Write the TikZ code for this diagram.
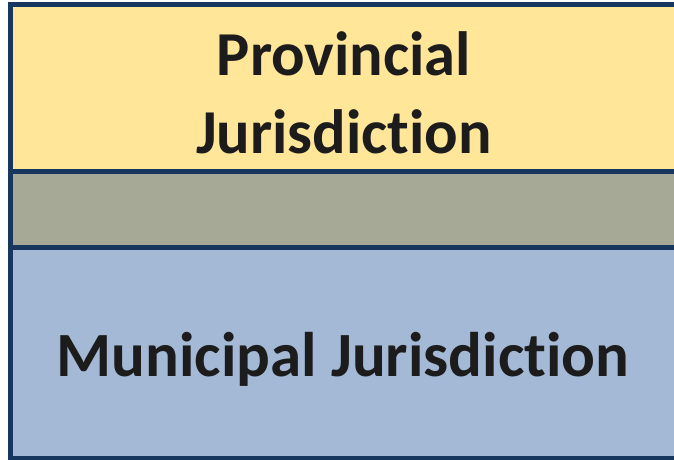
\documentclass[tikz,border=0pt]{standalone}
\usepackage{fontspec}
\setmainfont[Ligatures=NoCommon]{Carlito}
\definecolor{bandyellow}{HTML}{FFE699}
\definecolor{bandgray}{HTML}{A5A996}
\definecolor{bandblue}{HTML}{A4B9D5}
\definecolor{edgeblue}{HTML}{17375E}
\definecolor{inktext}{HTML}{1C1C1C}
\tikzset{
  band/.style={draw=edgeblue, line width=5pt, rectangle, inner sep=0pt, outer sep=0pt,
    minimum width=666pt},
  bandtext/.style={text=inktext, align=center, inner sep=0pt},
}
\begin{document}
\begin{tikzpicture}[x=1pt,y=1pt]
\useasboundingbox (0,0) rectangle (674,459);
\node[band, fill=bandyellow, minimum height=166.5pt] (prov) at (343,459-88.25) {};
\node[band, fill=bandgray, minimum height=75.5pt] (mid) at (343,459-209.25) {};
\node[band, fill=bandblue, minimum height=211pt] (muni) at (343,459-352.5) {};
\node[bandtext, font=\fontsize{62.5}{78}\selectfont\bfseries] (provtext) at (344,459-92.5)
  {Provincial\\Jurisdiction};
\node[bandtext, font=\fontsize{63}{78}\selectfont\bfseries] (munitext) at (343,459-359.5)
  {Municipal Jurisdiction};
\end{tikzpicture}
\end{document}
